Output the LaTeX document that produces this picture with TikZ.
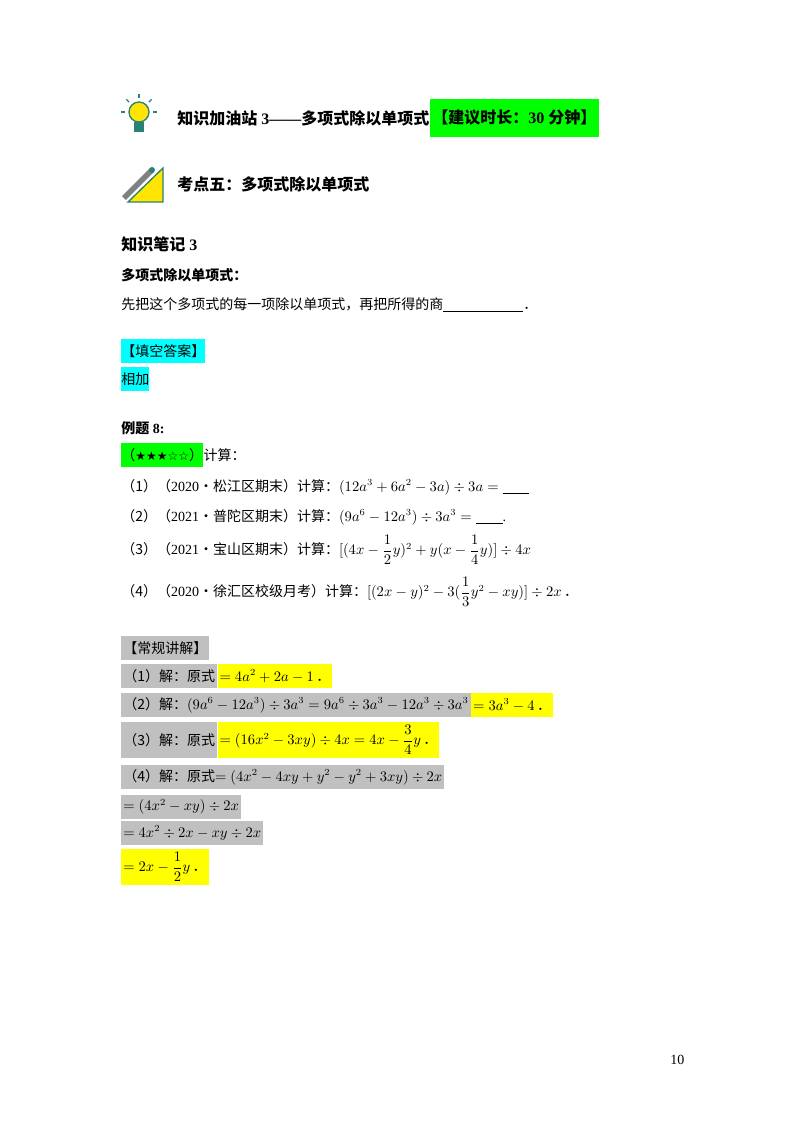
\documentclass[tikz,border=0pt]{standalone}
\usepackage{fontspec}
\usepackage{amsmath}
\usetikzlibrary{positioning}
\setmainfont{Liberation Serif}
\newfontfamily\cjk{Noto Sans CJK SC}
\newfontfamily\sym{DejaVu Sans}
\definecolor{hlgreen}{RGB}{0,255,0}
\definecolor{hlcyan}{RGB}{0,255,255}
\definecolor{hlyellow}{RGB}{255,255,0}
\definecolor{hlgray}{RGB}{192,192,192}
\definecolor{iconteal}{RGB}{40,130,120}
\begin{document}
\begin{tikzpicture}[x=0.75pt,y=-0.75pt,
  txt/.style={anchor=west,inner sep=0pt,font=\fontsize{10.5}{12}\selectfont},
  head/.style={anchor=west,inner sep=0pt,font=\fontsize{12}{14}\selectfont\bfseries},
  hl/.style={anchor=west,inner xsep=1.5pt,inner ysep=0pt,minimum height=18pt,font=\fontsize{10.5}{12}\selectfont},
  gbox/.style={hl,fill=hlgray},
  ybox/.style={hl,fill=hlyellow},
  tall/.style={minimum height=27pt}]

% page
\useasboundingbox[fill=white] (0,0) rectangle (800,1132);

% bulb icon
\fill[hlyellow!80!orange] (139,112) circle (10);
\draw[iconteal, line width=1pt] (139,112) circle (10);
\fill[iconteal] (134,122) rectangle (144,132);
\foreach \a in {0,45,90,135,180}
  \draw[iconteal, line width=1pt] (139,112) ++(-\a:14) -- ++(-\a:4);

% ruler icon
\fill[hlyellow!80!orange] (128,202) -- (163,202) -- (163,168) -- cycle;
\draw[iconteal, line width=1pt] (128,202) -- (163,202) -- (163,168) -- cycle;
\draw[gray, line width=4pt] (124,198) -- (152,170);
\fill[iconteal] (152,170) circle (3);

% headings
\node[head] (title) at (177,118) {{\cjk 知识加油站} 3——{\cjk 多项式除以单项式}};
\node[head,fill=hlgreen,inner xsep=2pt,minimum height=28pt,right=0pt of title] (time) {{\cjk 【建议时长：}30 {\cjk 分钟】}};
\node[head] (kd5) at (177,184) {\cjk 考点五：多项式除以单项式};
\node[head] (note) at (121,244) {{\cjk 知识笔记} 3};
\node[txt,font=\fontsize{10.5}{12}\selectfont\bfseries] (rule) at (121,275) {\cjk 多项式除以单项式：};
\node[txt] (fill) at (121,305) {{\cjk 先把这个多项式的每一项除以单项式，再把所得的商}\underline{\hspace{60pt}}{\cjk ．}};
\node[hl,fill=hlcyan,inner xsep=0pt] (ans) at (121,351) {\cjk 【填空答案】};
\node[hl,fill=hlcyan,inner xsep=0pt] (ansv) at (121,379) {\cjk 相加};

% example
\node[txt,font=\fontsize{10.5}{12}\selectfont\bfseries] (ex) at (121,428) {{\cjk 例题} 8:};
\node[hl,fill=hlgreen,inner xsep=0pt] (stars) at (121,455) {{\cjk （}{\sym\small ★★★☆☆}{\cjk ）}};
\node[txt,right=0pt of stars] (calc) {\cjk 计算：};
\node[txt] (q1) at (121,487) {{\cjk （1）（}2020{\cjk •松江区期末）计算：}$(12a^3+6a^2-3a)\div 3a=\underline{\hspace{20pt}}$};
\node[txt] (q2) at (121,517) {{\cjk （2）（}2021{\cjk •普陀区期末）计算：}$(9a^6-12a^3)\div 3a^3=\underline{\hspace{20pt}}$.};
\node[txt] (q3) at (121,550) {{\cjk （3）（}2021{\cjk •宝山区期末）计算：}$[(4x-\dfrac{1}{2}y)^2+y(x-\dfrac{1}{4}y)]\div 4x$};
\node[txt] (q4) at (121,592) {{\cjk （4）（}2020{\cjk •徐汇区校级月考）计算：}$[(2x-y)^2-3(\dfrac{1}{3}y^2-xy)]\div 2x$\,{\cjk ．}};

% solutions
\node[gbox] (sol) at (121,648) {\cjk 【常规讲解】};
\node[gbox] (s1a) at (121,676) {\cjk （1）解：原式};
\node[ybox,right=0pt of s1a] (s1b) {$=4a^2+2a-1$\,{\cjk ．}};
\node[gbox] (s2a) at (121,705) {{\cjk （2）解：}$(9a^6-12a^3)\div 3a^3=9a^6\div 3a^3-12a^3\div 3a^3$};
\node[ybox,right=0pt of s2a] (s2b) {$=3a^3-4$\,{\cjk ．}};
\node[gbox,tall] (s3a) at (121,740) {\cjk （3）解：原式};
\node[ybox,tall,right=0pt of s3a] (s3b) {$=(16x^2-3xy)\div 4x=4x-\dfrac{3}{4}y$\,{\cjk ．}};
\node[gbox] (s4) at (121,777) {{\cjk （4）解：原式}$=(4x^2-4xy+y^2-y^2+3xy)\div 2x$};
\node[gbox] (s5) at (121,807) {$=(4x^2-xy)\div 2x$};
\node[gbox] (s6) at (121,833) {$=4x^2\div 2x-xy\div 2x$};
\node[ybox,tall] (s7) at (121,867) {$=2x-\dfrac{1}{2}y$\,{\cjk ．}};

% page number
\node[txt] (page) at (670,1060) {10};
\end{tikzpicture}
\end{document}
